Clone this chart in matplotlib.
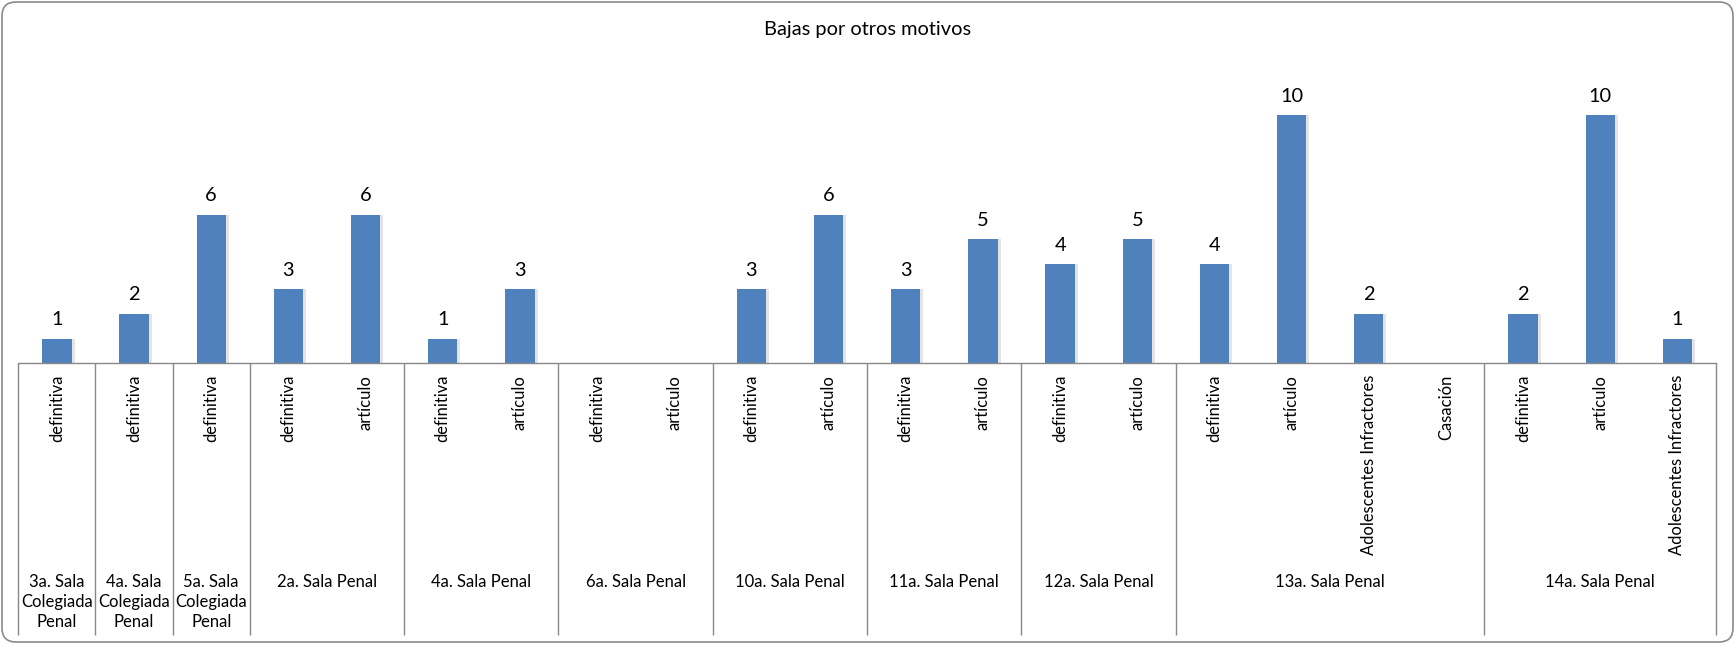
import numpy as np
import matplotlib
matplotlib.use("Agg")
import matplotlib.pyplot as plt
from matplotlib import transforms
from matplotlib.patches import FancyBboxPatch
from matplotlib.textpath import TextPath
from matplotlib.font_manager import FontProperties

# ---------------- data ----------------
title = "Bajas por otros motivos"
categories = ['definitiva', 'definitiva', 'definitiva',
              'definitiva', 'artículo',
              'definitiva', 'artículo',
              'definitiva', 'artículo',
              'definitiva', 'artículo',
              'definitiva', 'artículo',
              'definitiva', 'artículo',
              'definitiva', 'artículo', 'Adolescentes Infractores', 'Casación',
              'definitiva', 'artículo', 'Adolescentes Infractores']
groups = ['3a. Sala\nColegiada\nPenal', '4a. Sala\nColegiada\nPenal', '5a. Sala\nColegiada\nPenal',
          '2a. Sala Penal', '4a. Sala Penal', '6a. Sala Penal', '10a. Sala Penal',
          '11a. Sala Penal', '12a. Sala Penal', '13a. Sala Penal', '14a. Sala Penal']
group_sizes = [1, 1, 1, 2, 2, 2, 2, 2, 2, 4, 3]
values = [1, 2, 6, 3, 6, 1, 3, None, None, 3, 6, 3, 5, 4, 5, 4, 10, 2, None, 2, 10, 1]

# ---------------- style ----------------
W, H, DPI = 1735, 645, 100
FAMILY = "Lato"
BAR = "#4F81BD"
LINE = "#888888"


def fit(s, target_px):
    fp = FontProperties(family=FAMILY)
    w = TextPath((0, 0), s, size=100, prop=fp).get_extents().width
    return target_px * 100.0 / w * 72.0 / DPI


fs_title = fit(title, 205)
fs_cat = fit('Adolescentes Infractores', 180)
fs_grp = fit('13a. Sala Penal', 107)
fs_val = fit('10', 21)

fig = plt.figure(figsize=(W / DPI, H / DPI), dpi=DPI)
fig.patch.set_facecolor("white")

# pixel-space background axes (y measured from top)
bg = fig.add_axes([0, 0, 1, 1], zorder=0)
bg.set_xlim(0, W)
bg.set_ylim(H, 0)
bg.axis("off")

x_left, x_right = 18.3, 1716.0
base_y, unit = 363.3, 24.8
ymax = 12
ax = fig.add_axes([x_left / W, (H - base_y) / H, (x_right - x_left) / W, ymax * unit / H], zorder=1)
ax.patch.set_alpha(0)
ax.set_xlim(-0.5, len(categories) - 0.5)
ax.set_ylim(0, ymax)
ax.axis("off")

x = np.arange(len(categories))
vals = np.array([np.nan if v is None else v for v in values], dtype=float)

# soft shadow + bars
ax.bar(x + 0.02, vals, width=0.42, color="#e4e4e4", zorder=1, linewidth=0)
ax.bar(x, vals, width=0.38, color=BAR, zorder=2, linewidth=0)

for xi, v in zip(x, values):
    if v is None:
        continue
    ax.annotate(str(v), (xi, v), xytext=(0, 13.3 * 72 / DPI), textcoords="offset points",
                ha="center", va="baseline", fontsize=fs_val, family=FAMILY, color="black")

# axis line
ax.plot([-0.5, len(categories) - 0.5], [0, 0], color=LINE, lw=1.0, clip_on=False, zorder=3)

blend = transforms.blended_transform_factory(ax.transData, bg.transData)

# group boundaries (tick lines)
bounds = np.concatenate([[0], np.cumsum(group_sizes)]) - 0.5
for b in bounds:
    bg.plot([b, b], [base_y, 635], color=LINE, lw=1.0, transform=blend, solid_capstyle="butt")

# category labels (rotated)
for xi, c in zip(x, categories):
    bg.text(xi, 375, c, rotation=90, ha="center", va="top", fontsize=fs_cat,
            family=FAMILY, color="black", transform=blend)

# group labels (one text per line, centred)
starts = np.concatenate([[0], np.cumsum(group_sizes)[:-1]])
for g, s0, n in zip(groups, starts, group_sizes):
    cx = s0 + (n - 1) / 2.0
    for i, line in enumerate(g.split("\n")):
        bg.text(cx, 587 + 20 * i, line, ha="center", va="baseline", fontsize=fs_grp,
                family=FAMILY, color="black", transform=blend)

# title
bg.text(W / 2, 35, title, ha="center", va="baseline", fontsize=fs_title, family=FAMILY, color="black")

# rounded border
border = FancyBboxPatch((2, 2), W - 4, H - 5, boxstyle="round,pad=0,rounding_size=14",
                        fill=False, edgecolor="#8a8a8a", lw=1.2)
bg.add_patch(border)

fig.savefig("out.png", dpi=DPI, facecolor="white")
